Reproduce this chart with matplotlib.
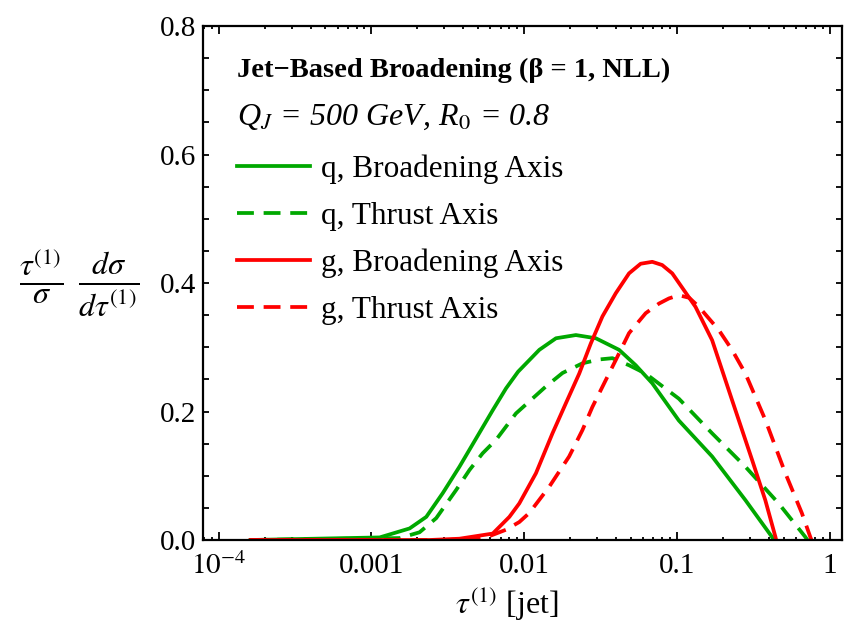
import matplotlib
matplotlib.use('Agg')
import matplotlib.pyplot as plt
from matplotlib.ticker import FixedLocator, LogLocator, MultipleLocator, NullFormatter

plt.rcParams['font.family'] = ['Liberation Serif', 'DejaVu Serif']
plt.rcParams['mathtext.fontset'] = 'stix'
plt.rcParams['font.size'] = 20

# values (tau, y)
q_broad_tau = [0.000162, 0.001132, 0.001778, 0.002286, 0.002931, 0.003767, 0.004842, 0.006223,
               0.007603, 0.00912, 0.01256, 0.01614, 0.02178, 0.02944, 0.04178, 0.0537,
               0.06887, 0.1028, 0.1698, 0.2805, 0.4178, 0.4285]
q_broad_y = [0.0, 0.004, 0.018, 0.036, 0.073, 0.114, 0.158, 0.202,
             0.236, 0.262, 0.296, 0.314, 0.319, 0.314, 0.296, 0.272,
             0.244, 0.186, 0.130, 0.062, 0.005, 0.0]

q_thrust_tau = [0.000162, 0.001531, 0.002065, 0.002655, 0.003589, 0.004385, 0.005346, 0.006546,
                0.008831, 0.01387, 0.01782, 0.02404, 0.0309, 0.03776, 0.04853, 0.06237,
                0.1028, 0.1698, 0.2805, 0.4624, 0.6902, 0.7145]
q_thrust_y = [0.0, 0.003, 0.012, 0.034, 0.078, 0.109, 0.135, 0.156,
              0.197, 0.239, 0.260, 0.275, 0.281, 0.283, 0.272, 0.259,
              0.220, 0.166, 0.114, 0.057, 0.005, 0.0]

g_broad_tau = [0.000162, 0.002399, 0.003767, 0.006223, 0.007998, 0.00929, 0.01194, 0.01531,
               0.01875, 0.02291, 0.02729, 0.03251, 0.03972, 0.04853, 0.05781, 0.06887,
               0.07998, 0.09311, 0.1321, 0.1698, 0.2291, 0.3097, 0.3784, 0.4406, 0.4457]
g_broad_y = [0.0, 0.0, 0.002, 0.010, 0.036, 0.057, 0.104, 0.166,
             0.213, 0.259, 0.306, 0.348, 0.384, 0.415, 0.430, 0.433,
             0.428, 0.415, 0.363, 0.311, 0.218, 0.125, 0.062, 0.005, 0.0]

g_thrust_tau = [0.000162, 0.003162, 0.004385, 0.005916, 0.007603, 0.00929, 0.01079, 0.01459,
                0.01968, 0.02404, 0.02793, 0.0342, 0.03972, 0.04853, 0.06237, 0.07621,
                0.08851, 0.1028, 0.1202, 0.139, 0.1875, 0.2291, 0.2805, 0.3784, 0.5117,
                0.6561, 0.7447, 0.7586]
g_thrust_y = [0.0, 0.0, 0.002, 0.006, 0.016, 0.028, 0.042, 0.083,
              0.130, 0.171, 0.207, 0.249, 0.280, 0.322, 0.353, 0.368,
              0.376, 0.381, 0.377, 0.363, 0.327, 0.296, 0.259, 0.187, 0.104,
              0.042, 0.005, 0.0]

x_ticks = [1e-4, 1e-3, 1e-2, 1e-1, 1]
x_tick_labels = [r'$10^{-4}$', '0.001', '0.01', '0.1', '1']
y_ticks = [0.0, 0.2, 0.4, 0.6, 0.8]

green = '#00a800'
red = '#ff0000'

fig = plt.figure(figsize=(8.44, 6.38), dpi=100)
ax = fig.add_axes([0.2405, 0.1536, 0.757, 0.8056])

ax.plot(q_broad_tau, q_broad_y, color=green, lw=2.7, label='q, Broadening Axis')
ax.plot(q_thrust_tau, q_thrust_y, color=green, lw=2.7, dashes=(4.5, 2.6), label='q, Thrust Axis')
ax.plot(g_broad_tau, g_broad_y, color=red, lw=2.7, label='g, Broadening Axis')
ax.plot(g_thrust_tau, g_thrust_y, color=red, lw=2.7, dashes=(4.5, 2.6), label='g, Thrust Axis')

ax.set_xscale('log')
ax.set_xlim(7.9e-5, 1.2)
ax.set_ylim(0, 0.8)
ax.xaxis.set_major_locator(FixedLocator(x_ticks))
ax.set_xticklabels(x_tick_labels)
ax.xaxis.set_minor_locator(LogLocator(base=10, subs=range(2, 10)))
ax.xaxis.set_minor_formatter(NullFormatter())
ax.set_yticks(y_ticks)
ax.set_yticklabels(['%.1f' % v for v in y_ticks])
ax.yaxis.set_minor_locator(MultipleLocator(0.05))
ax.tick_params(which='both', direction='in', top=True, right=True, width=1.3, labelsize=21)
ax.tick_params(axis='y', which='both', length=4, pad=5)
ax.tick_params(axis='x', which='major', length=5.5, pad=9)
ax.tick_params(axis='x', which='minor', length=2)
for s in ax.spines.values():
    s.set_linewidth(1.6)

ax.text(0.054, 0.914, 'Jet\u2212Based Broadening (\u03b2 = 1, NLL)', transform=ax.transAxes,
        fontsize=20.5, fontweight='bold', va='center', ha='left')
ax.text(0.054, 0.823, r'Q$_{J}$ = 500 GeV, R$_{\mathit{0}}$ = 0.8', transform=ax.transAxes,
        fontsize=23, fontstyle='italic', va='center', ha='left')

ax.legend(loc='upper left', bbox_to_anchor=(0.053, 0.751), frameon=False, fontsize=22.5,
          handlelength=2.34, handletextpad=0.35, labelspacing=0.58,
          borderpad=0, borderaxespad=0)

fig.text(79 / 844, 1 - 283 / 638,
         r'$\frac{\tau^{(1)}}{\sigma}\ \frac{d\sigma}{d\tau^{(1)}}$',
         fontsize=33, ha='center', va='center')
fig.text(0.6, 1 - 604 / 638, r'$\tau^{(1)}$ [jet]', fontsize=23, ha='center', va='center')

fig.savefig('out.png', dpi=100, facecolor='white')
